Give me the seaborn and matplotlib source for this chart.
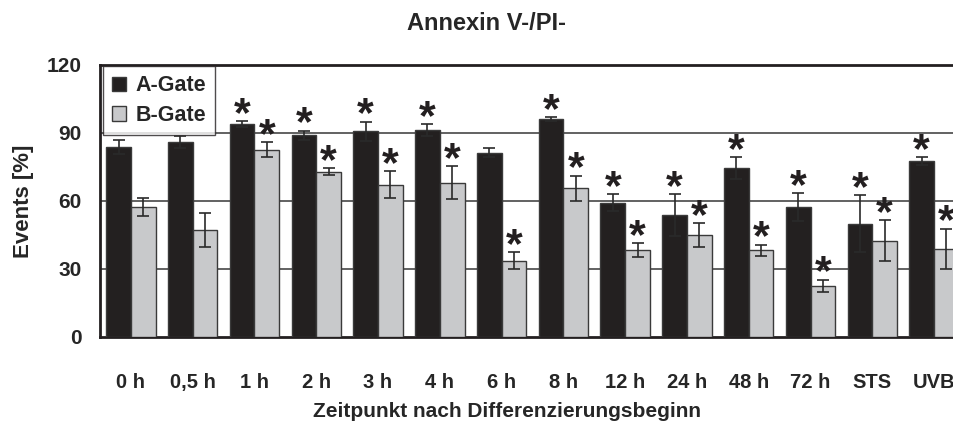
import matplotlib
matplotlib.use("Agg")
import matplotlib.pyplot as plt
import seaborn as sns
import pandas as pd
import numpy as np

categories = ["0 h", "0,5 h", "1 h", "2 h", "3 h", "4 h", "6 h", "8 h",
              "12 h", "24 h", "48 h", "72 h", "STS", "UVB"]
a_gate = [83.8, 86.0, 94.0, 89.1, 90.7, 91.2, 81.3, 96.0, 59.3, 53.7, 74.5, 57.3, 50.0, 77.6]
a_err = [3.2, 2.5, 1.4, 2.0, 4.3, 2.6, 2.1, 0.9, 3.7, 9.3, 5.0, 6.1, 12.5, 1.9]
b_gate = [57.4, 47.2, 82.6, 72.9, 67.2, 68.1, 33.7, 65.7, 38.3, 45.1, 38.2, 22.6, 42.5, 38.9]
b_err = [4.0, 7.5, 3.3, 1.5, 6.0, 7.3, 3.7, 5.5, 3.2, 5.3, 2.6, 2.7, 9.0, 8.9]
a_sig = [0, 0, 1, 1, 1, 1, 0, 1, 1, 1, 1, 1, 1, 1]
b_sig = [0, 0, 1, 1, 1, 1, 1, 1, 1, 1, 1, 1, 1, 1]
series = ["A-Gate", "B-Gate"]
title = "Annexin V-/PI-"
ylabel = "Events [%]"
xlabel = "Zeitpunkt nach Differenzierungsbeginn"

sns.set_style("white")
plt.rcParams['font.family'] = ['Liberation Sans', 'DejaVu Sans']
plt.rcParams['font.weight'] = 'bold'

df = pd.DataFrame({
    "cat": categories * 2,
    "val": a_gate + b_gate,
    "err": a_err + b_err,
    "sig": a_sig + b_sig,
    "gate": [series[0]] * len(categories) + [series[1]] * len(categories),
})

fig = plt.figure(figsize=(9.54, 4.21), dpi=100)
ax = fig.add_axes([100/954, 1-337/421, 865/954, (337-65)/421])

colors = {"A-Gate": "#231f20", "B-Gate": "#c8c9cb"}
sns.barplot(data=df, x="cat", y="val", hue="gate", palette=colors, ax=ax,
            order=categories, hue_order=series, errorbar=None,
            edgecolor="#3a3a3a", linewidth=1.0, width=0.8, zorder=3)

# error bars and asterisks, positioned from the bar patches
bars = [p for p in ax.patches if p.get_height() > 0]
for gi, g in enumerate(series):
    sub = df[df.gate == g].reset_index(drop=True)
    for i in range(len(categories)):
        p = bars[gi * len(categories) + i]
        xc = p.get_x() + p.get_width() / 2
        v = sub.val[i]; e = sub.err[i]
        ax.errorbar(xc, v, yerr=e, fmt="none", ecolor="#2a2a2a",
                    elinewidth=1.2, capsize=4.5, capthick=1.2, zorder=4)
        if sub.sig[i]:
            ax.annotate("*", (xc, v + e), xytext=(0, -10), textcoords="offset points",
                        ha="center", va="bottom", fontsize=31, fontweight="bold",
                        color="#231f20", zorder=5)

ax.set_ylim(0, 120)
ax.set_xlim(-0.5, len(categories) - 0.5)
ax.set_yticks([0, 30, 60, 90, 120])
ax.set_yticklabels(["0", "30", "60", "90", "120"], fontsize=15, fontweight="bold")
ax.set_xticks(range(len(categories)))
ax.set_xticklabels(categories, fontsize=14.5, fontweight="bold", va="baseline")
ax.set_xticks(np.arange(-0.5, len(categories), 1.0), minor=True)
ax.tick_params(axis="x", which="major", length=0, pad=37)
ax.tick_params(axis="x", which="minor", length=7, width=1.5, direction="out", color="#231f20")
ax.tick_params(axis="y", length=7, width=1.5, direction="out", color="#231f20", pad=6)

for y in [30, 60, 90]:
    ax.axhline(y, color="#555555", lw=1.3, zorder=1)

for s in ["left", "bottom", "top"]:
    ax.spines[s].set_color("#231f20")
    ax.spines[s].set_linewidth(2.0)
ax.spines["right"].set_visible(False)

ax.set_xlabel(xlabel, fontsize=15, fontweight="bold")
ax.set_ylabel(ylabel, fontsize=16, fontweight="bold", labelpad=9)
ax.xaxis.set_label_coords((507 - 100) / 865, -(402 - 337) / 272)

fig.text(487/954, 1 - 24/421, title, ha="center", va="center", fontsize=17, fontweight="bold")

leg = ax.legend(loc="upper left", bbox_to_anchor=(0.003, 0.995), fontsize=15.5,
                frameon=True, fancybox=False, edgecolor="#231f20",
                handlelength=0.65, handleheight=0.65, handletextpad=0.45,
                borderpad=0.42, labelspacing=0.4, borderaxespad=0.0)
leg.get_frame().set_linewidth(1.0)
for t in leg.get_texts():
    t.set_fontweight("bold")
leg.set_zorder(6)

fig.savefig("out.png", dpi=100)
